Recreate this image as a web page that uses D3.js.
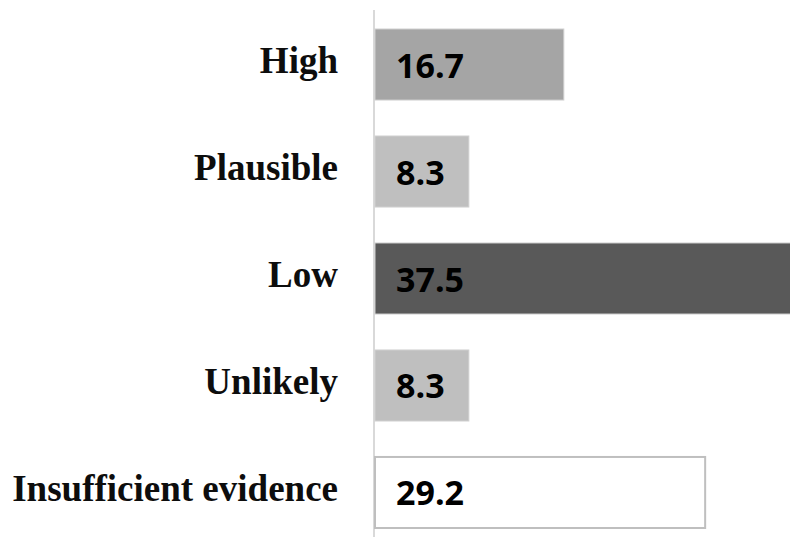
<!DOCTYPE html>
<html><head><meta charset="utf-8">
<script src="https://cdn.jsdelivr.net/npm/d3@7"></script>
<style>body{margin:0;background:#fff}</style>
</head><body>
<svg id="c" width="790" height="539"></svg>
<script>
const categories = ["High", "Plausible", "Low", "Unlikely", "Insufficient evidence"];
const values = [16.7, 8.3, 37.5, 8.3, 29.2];
const colors = ["#a5a5a5", "#bfbfbf", "#595959", "#bfbfbf", "#ffffff"];

const svg = d3.select("#c");
const x0 = 375;
const x = d3.scaleLinear().domain([0, 37.5]).range([x0, x0 + 424]);
const y = d3.scaleBand().domain(categories).range([-24.5, 581.5]).paddingInner(0.336).paddingOuter(0.5);

svg.append("line").attr("x1", 374).attr("x2", 374).attr("y1", 10).attr("y2", 537)
  .attr("stroke", "#d9d9d9").attr("stroke-width", 2);

svg.selectAll("rect.bar").data(categories).join("rect")
  .attr("x", x0).attr("y", d => y(d))
  .attr("width", (d, i) => x(values[i]) - x0)
  .attr("height", y.bandwidth())
  .attr("fill", (d, i) => colors[i])
  .attr("stroke", (d, i) => i === 4 ? "#bfbfbf" : "#d0d0d0")
  .attr("stroke-width", (d, i) => i === 4 ? 2 : 1);

svg.selectAll("text.cat").data(categories).join("text")
  .attr("x", 338).attr("y", d => y(d) + y.bandwidth() / 2 + 8.5)
  .attr("text-anchor", "end")
  .attr("font-family", "'Liberation Serif', serif").attr("font-weight", "bold")
  .attr("font-size", 37).attr("fill", "#0d0d0d")
  .text(d => d);

svg.selectAll("text.val").data(categories).join("text")
  .attr("x", 396).attr("y", d => y(d) + y.bandwidth() / 2 + 13)
  .attr("font-family", "'Open Sans', sans-serif").attr("font-weight", "bold")
  .attr("font-size", 34).attr("fill", "#000")
  .text((d, i) => values[i].toFixed(1));
</script>
</body></html>
